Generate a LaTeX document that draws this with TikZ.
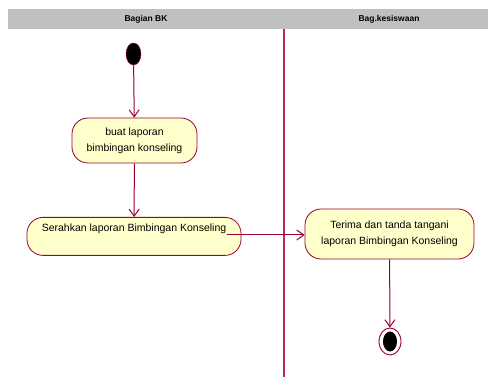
\documentclass[tikz,border=0pt]{standalone}
\usepackage{fontspec}
\setmainfont{Liberation Sans}
\usepackage{tikz}
\usetikzlibrary{arrows.meta}
\usetikzlibrary{shapes.geometric}

\definecolor{umlline}{RGB}{153,0,51}
\definecolor{umllane}{RGB}{180,40,100}
\definecolor{umlfill}{RGB}{255,255,204}
\definecolor{umlhead}{RGB}{192,192,192}

\begin{document}
\begin{tikzpicture}[x=1pt, y=-1pt,
    activity/.style={draw=umlline, fill=umlfill, rounded corners=16pt, align=center,
                     line width=0.8pt, font=\fontsize{10.5}{16}\selectfont, inner sep=0pt},
    flow/.style={draw=umlline, line width=1pt, -{Straight Barb[length=7pt,width=10pt]}},
    lanetitle/.style={font=\fontsize{8.5}{10}\selectfont\bfseries}]
\useasboundingbox (0,0) rectangle (488,377);

% swimlanes
\fill[umlhead] (8,9) rectangle (488,29);
\node[lanetitle] (laneBK)  at (146,19) {Bagian BK};
\node[lanetitle] (laneKes) at (389,19) {Bag.kesiswaan};
\draw[umllane, line width=1.2pt] (284,29) -- (284,377);

% states
\node[ellipse, draw=umlline, fill=black, minimum width=15pt, minimum height=22pt,
      inner sep=0pt] (start) at (133.5,54) {};
\node[activity, minimum width=125pt, minimum height=45pt] (buat) at (134.5,140.5)
    {buat laporan\\bimbingan konseling};
\node[activity, anchor=north, minimum width=214pt, text height=9pt, text depth=19pt,
      inner ysep=5pt] (serah) at (134,217) {Serahkan laporan Bimbingan Konseling};
\node[activity, minimum width=169pt, minimum height=50pt] (terima) at (389.5,234)
    {Terima dan tanda tangani\\laporan Bimbingan Konseling};
\node[ellipse, draw=umlline, fill=white, line width=0.9pt, minimum width=22pt, minimum height=27pt,
      inner sep=0pt] (finish) at (390,341.5) {};
\node[ellipse, fill=black, minimum width=14pt, minimum height=20pt, inner sep=0pt]
    (finishdot) at (finish.center) {};

% transitions
\coordinate (serahout) at (227,235);
\draw[flow] (start) -- (buat);
\draw[flow] (buat) -- (serah);
\draw[flow] (serahout) -- (serahout -| terima.west);
\draw[flow] (terima) -- (finish);
\end{tikzpicture}
\end{document}
